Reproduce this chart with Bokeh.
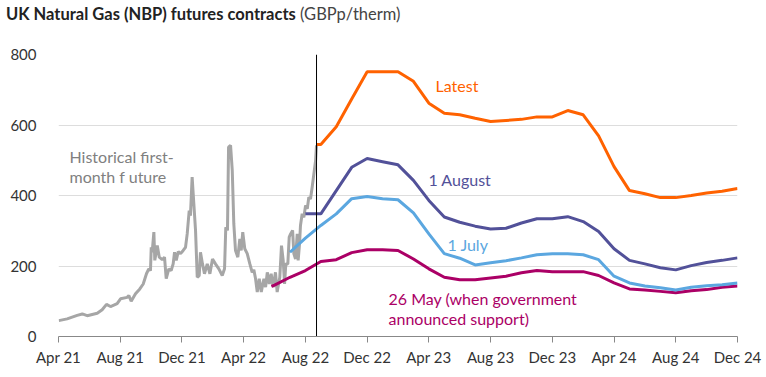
from bokeh.plotting import figure
from bokeh.models import Label, FixedTicker, Div
from bokeh.layouts import column
from bokeh.embed import file_html
from bokeh.resources import INLINE

# x values are months since 1 Apr 2021
tick_pos = [0, 4, 8, 12, 16, 20, 24, 28, 32, 36, 40, 44]
tick_labels = ["Apr 21", "Aug 21", "Dec 21", "Apr 22", "Aug 22", "Dec 22",
               "Apr 23", "Aug 23", "Dec 23", "Apr 24", "Aug 24", "Dec 24"]

hist_t = [0.02, 0.56, 1.21, 1.54, 1.86, 2.51, 2.83, 3.11, 3.37, 3.80, 4.02, 4.45, 4.56, 4.71,
          4.99, 5.27, 5.49, 5.70, 5.85, 5.96, 6.01, 6.07, 6.18, 6.24, 6.40, 6.53, 6.72, 6.87,
          6.98, 7.15, 7.30, 7.43, 7.52, 7.63, 7.76, 7.91, 8.08, 8.23, 8.34, 8.47, 8.55, 8.66,
          8.77, 8.88, 8.99, 9.12, 9.20, 9.33, 9.46, 9.64, 9.81, 9.98, 10.17, 10.39, 10.61,
          10.76, 10.84, 10.95, 11.02, 11.15, 11.26, 11.36, 11.47, 11.62, 11.75, 11.84, 11.94,
          12.07, 12.23, 12.40, 12.55, 12.66, 12.77, 12.88, 13.01, 13.14, 13.31, 13.42, 13.53,
          13.66, 13.78, 13.91, 14.06, 14.17, 14.34, 14.45, 14.56, 14.65, 14.73, 14.86, 14.95,
          15.04, 15.17, 15.25, 15.36, 15.47, 15.53, 15.62, 15.68, 15.79, 15.90, 16.01, 16.12,
          16.22, 16.33, 16.44, 16.55, 16.66, 16.72]
hist_v = [45, 50, 60, 64, 59, 66, 76, 91, 85, 93, 107, 111, 116, 100,
          121, 135, 149, 178, 192, 187, 253, 239, 296, 216, 258, 225, 218, 225,
          164, 192, 187, 206, 239, 216, 241, 235, 244, 253, 291, 357, 343, 452,
          376, 301, 168, 173, 239, 206, 178, 206, 178, 220, 206, 192, 173,
          192, 310, 301, 537, 542, 471, 320, 244, 225, 277, 244, 296,
          249, 235, 206, 182, 189, 164, 126, 164, 126, 164, 140, 182,
          149, 178, 140, 182, 126, 168, 258, 216, 149, 206, 206, 282,
          291, 301, 235, 220, 291, 216, 263, 315, 348, 338, 372, 362,
          395, 390, 424, 462, 499, 542]

latest_t = [16.72] + list(range(17, 45))
latest_v = [545, 545, 595, 674, 751, 751, 751, 724, 662, 633, 629, 619, 610, 613, 616,
            623, 623, 641, 629, 569, 482, 414, 405, 394, 394, 400, 407, 412, 420]

aug_t = list(range(16, 45))
aug_v = [348, 348, 414, 480, 505, 496, 487, 443, 386, 339, 324, 313, 305, 307, 322,
         334, 334, 340, 326, 298, 249, 216, 206, 195, 189, 201, 210, 216, 223]

jul_t = list(range(15, 45))
jul_v = [239, 279, 315, 348, 391, 397, 391, 388, 351, 291, 235, 222, 203, 209, 215,
         223, 232, 235, 235, 232, 218, 171, 152, 143, 138, 132, 140, 144, 147, 152]

may_t = [13.8] + list(range(14, 45))
may_v = [142, 146, 168, 187, 213, 218, 238, 246, 246, 244, 220, 192, 168, 161, 161, 166,
         171, 181, 187, 184, 184, 184, 173, 152, 135, 132, 128, 124, 130, 133, 140, 143]

cutoff_t = 16.72

title_main = "UK Natural Gas (NBP) futures contracts"
title_unit = "(GBPp/therm)"

FONT = "Lato"
GREY = "#a6a6a6"
ORANGE = "#ff6200"
PURPLE = "#525199"
BLUE = "#5ba7e0"
MAGENTA = "#ab0066"

TITLE_H = 26

p = figure(width=766, height=377 - TITLE_H, output_backend="svg", toolbar_location=None,
           x_range=(0, 44), y_range=(0, 800),
           min_border_left=58, min_border_right=29, min_border_top=54 - TITLE_H,
           min_border_bottom=41)
p.outline_line_color = None
p.background_fill_color = "white"
p.xgrid.grid_line_color = None
p.ygrid.grid_line_color = "#dddddd"
p.ygrid.grid_line_width = 1

p.yaxis.ticker = FixedTicker(ticks=[0, 200, 400, 600, 800])
p.yaxis.axis_line_color = None
p.yaxis.major_tick_line_color = None
p.yaxis.minor_tick_line_color = None
p.yaxis.major_label_standoff = 16
p.yaxis.major_label_text_font = FONT
p.yaxis.major_label_text_font_size = "15px"
p.yaxis.major_label_text_color = "#333333"

p.xaxis.ticker = FixedTicker(ticks=tick_pos)
p.xaxis.major_label_overrides = {t: l for t, l in zip(tick_pos, tick_labels)}
p.xaxis.axis_line_color = "#888888"
p.xaxis.major_tick_line_color = "#888888"
p.xaxis.major_tick_in = 0
p.xaxis.major_tick_out = 6
p.xaxis.minor_tick_line_color = None
p.xaxis.major_label_standoff = 5
p.xaxis.major_label_text_font = FONT
p.xaxis.major_label_text_font_size = "15px"
p.xaxis.major_label_text_color = "#333333"

p.line(hist_t, hist_v, line_color=GREY, line_width=3)
p.line(may_t, may_v, line_color=MAGENTA, line_width=3)
p.line(jul_t, jul_v, line_color=BLUE, line_width=3)
p.line(aug_t, aug_v, line_color=PURPLE, line_width=3)
p.line(latest_t, latest_v, line_color=ORANGE, line_width=3)
p.segment(x0=[cutoff_t], y0=[0], x1=[cutoff_t], y1=[800], line_color="black", line_width=1)

def lab(x, y, text, color, size="16px", style="normal"):
    p.add_layout(Label(x=x, y=y, x_units="screen", y_units="screen", text=text,
                       text_color=color, text_font=FONT, text_font_size=size,
                       text_font_style=style, text_baseline="top", text_align="left"))

# positions relative to plot frame (left=58, bottom=336)
lab(69 - 58, 336 - 146, "Historical first-", "#808080")
lab(69 - 58, 336 - 166, "month f uture", "#808080")
lab(435 - 58, 336 - 75, "Latest", ORANGE)
lab(428 - 58, 336 - 169, "1 August", PURPLE)
lab(447 - 58, 336 - 234, "1 July", BLUE)
lab(388 - 58, 336 - 288, "26 May (when government", MAGENTA)
lab(388 - 58, 336 - 308, "announced support)", MAGENTA)

title = Div(text=f"<b>{title_main}</b> <span style='color:#444'>{title_unit}</span>",
            width=766, height=TITLE_H,
            styles={"font-family": FONT, "font-size": "16.5px", "color": "#222222",
                    "padding-left": "6px", "padding-top": "3px", "margin": "0"})

layout = column(title, p, spacing=0)
open("out.html", "w").write(file_html(layout, INLINE))
